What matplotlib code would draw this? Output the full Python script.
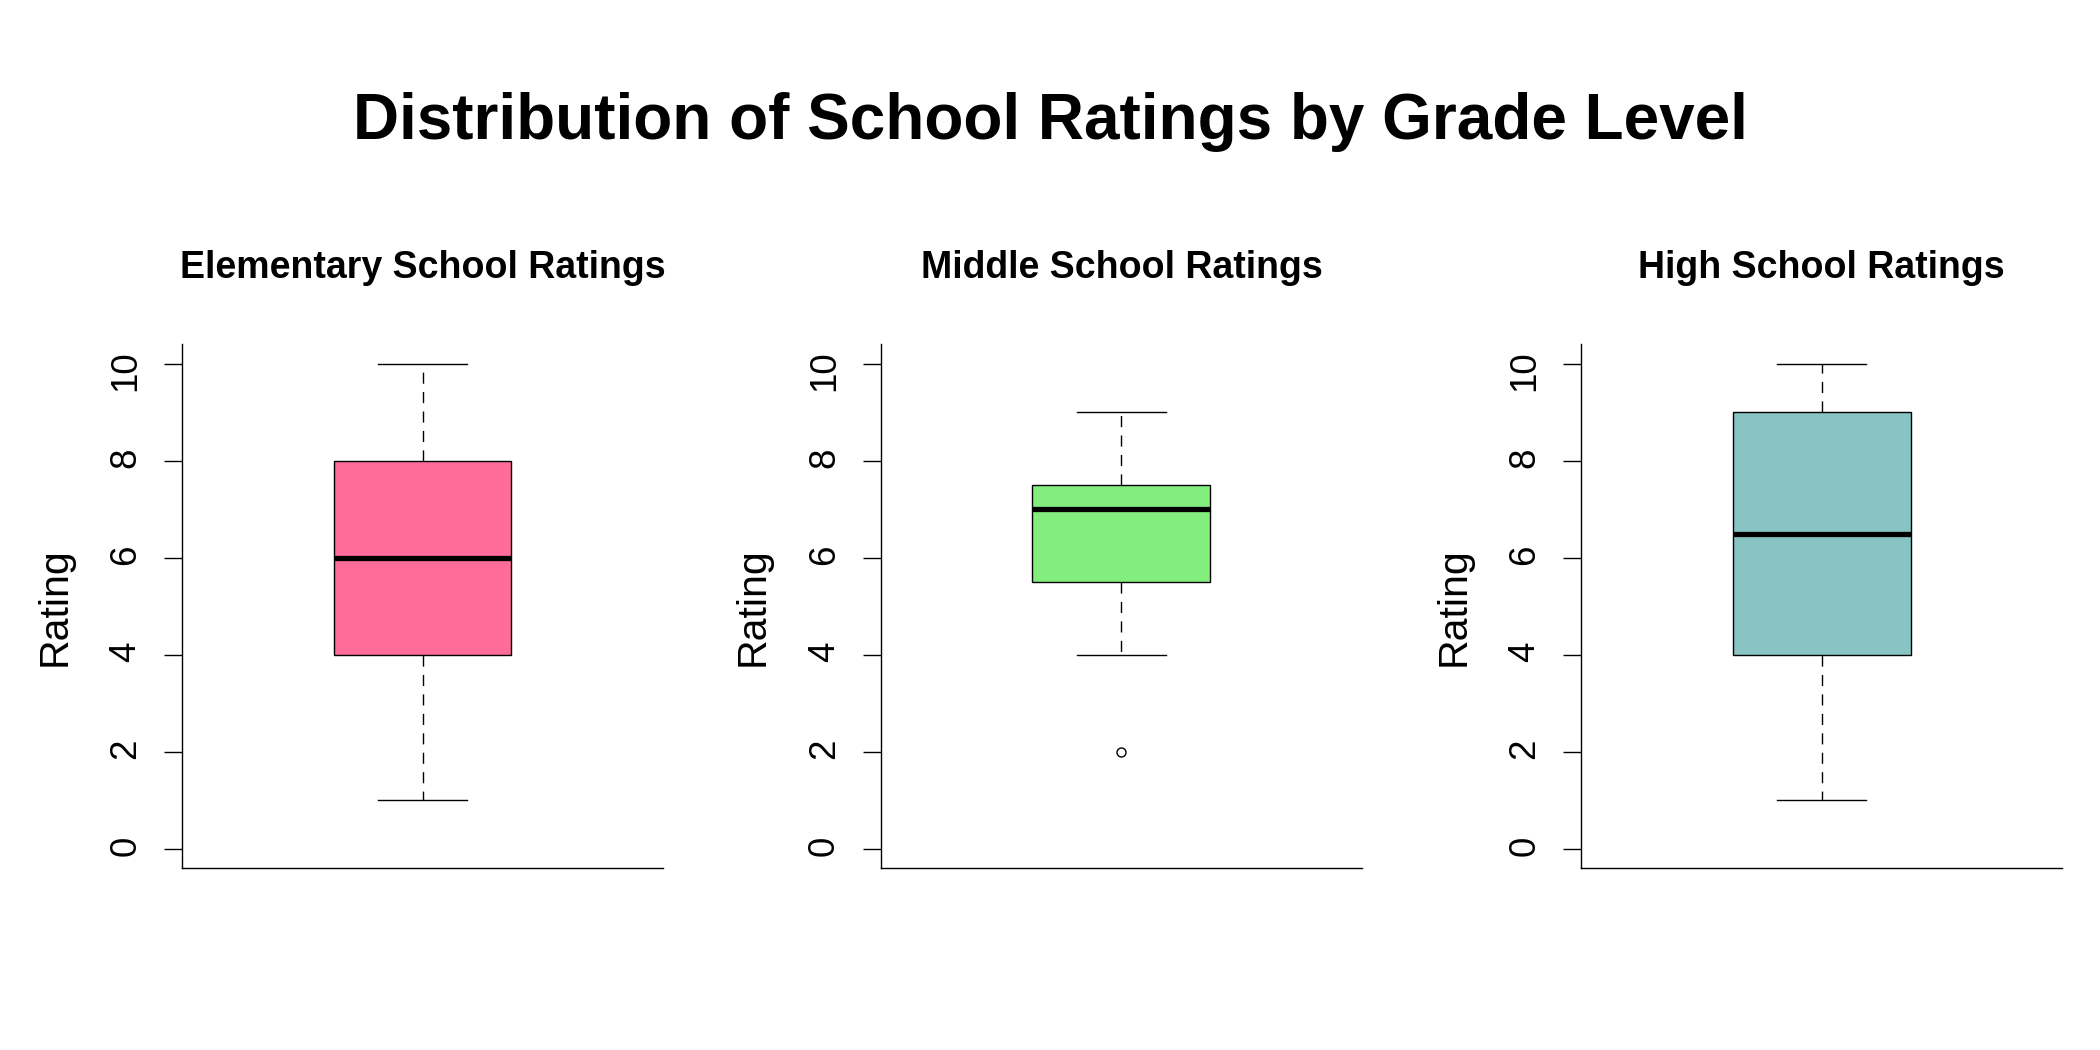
import matplotlib
matplotlib.use("Agg")
import matplotlib.pyplot as plt

plt.rcParams['font.family'] = ['Liberation Sans', 'DejaVu Sans']

# ---- data (five-number summaries) ----
titles = ['Elementary School Ratings', 'Middle School Ratings', 'High School Ratings']
whislo = [1, 4, 1]
q1 = [4, 5.5, 4]
med = [6, 7, 6.5]
q3 = [8, 7.5, 9]
whishi = [10, 9, 10]
fliers = [[], [2], []]
fills = ['#FF6B9B', '#83EE7E', '#89C4C4']
yticks = [0, 2, 4, 6, 8, 10]

fig = plt.figure(figsize=(21, 10.5), dpi=100)
fig.suptitle('Distribution of School Ratings by Grade Level',
             fontsize=46, fontweight='bold', y=0.884, va='center')

lefts = [0.0867, 0.4195, 0.753]
for i in range(3):
    ax = fig.add_axes([lefts[i], 0.173, 0.229, 0.499])
    stats = [dict(whislo=whislo[i], q1=q1[i], med=med[i], q3=q3[i],
                  whishi=whishi[i], fliers=fliers[i])]
    ax.bxp(stats, positions=[1], widths=0.37, capwidths=0.185,
           patch_artist=True,
           boxprops=dict(facecolor=fills[i], edgecolor='black', linewidth=1.0),
           medianprops=dict(color='black', linewidth=3.8),
           whiskerprops=dict(color='black', linewidth=1.0, linestyle=(0, (8, 6))),
           capprops=dict(color='black', linewidth=1.0),
           flierprops=dict(marker='o', markerfacecolor='none',
                           markeredgecolor='black', markersize=6.5,
                           markeredgewidth=1.0))
    ax.set_xlim(0.5, 1.5)
    ax.set_ylim(-0.4, 10.4)
    ax.set_yticks(yticks)
    ax.set_xticks([])
    ax.tick_params(axis='y', labelsize=26.5, labelrotation=90, length=13,
                   width=1.0, pad=15)
    for s in ['top', 'right']:
        ax.spines[s].set_visible(False)
    ax.spines['left'].set_linewidth(1.0)
    ax.spines['bottom'].set_linewidth(1.0)
    ax.text(-0.266, 0.5, 'Rating', transform=ax.transAxes, rotation=90,
            ha='center', va='center', fontsize=29.6)
    ax.set_title(titles[i], fontsize=27, fontweight='bold', pad=48)

fig.savefig('out.png', dpi=100)
